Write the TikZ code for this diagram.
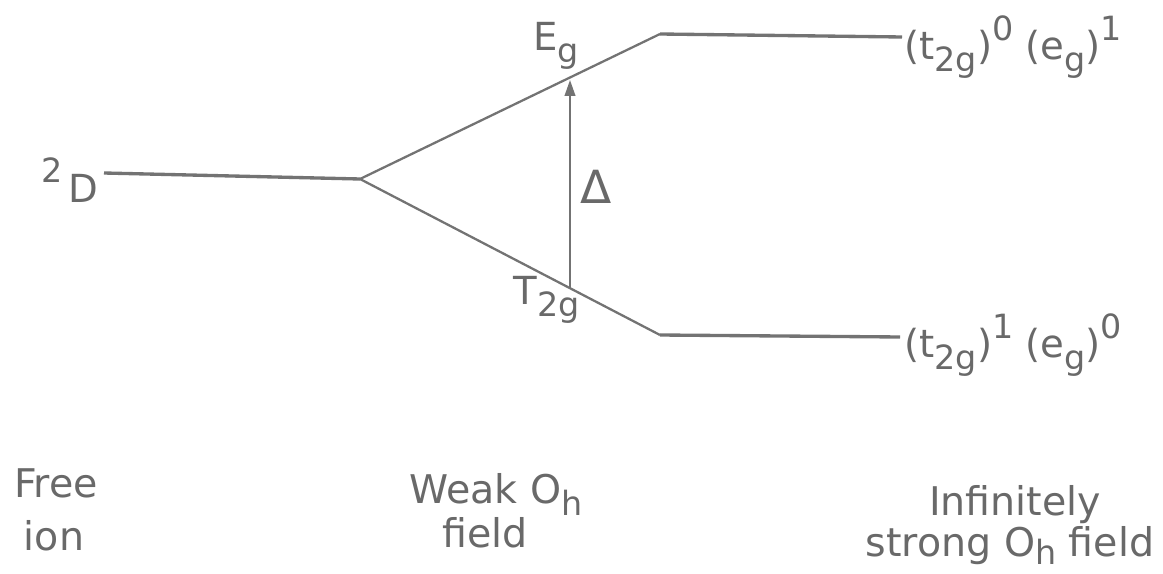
\documentclass[tikz,border=0pt]{standalone}
\usepackage{fontspec}
\setmainfont{DejaVu Sans}
\usetikzlibrary{arrows.meta}
\definecolor{ink}{RGB}{105,105,105}
\definecolor{lineink}{RGB}{115,115,115}
\newcommand\lo[1]{\raisebox{-0.32em}{\fontsize{19}{21}\selectfont #1}}
\newcommand\los[1]{\raisebox{-0.22em}{\fontsize{19}{21}\selectfont #1}}
\newcommand\hi[1]{\raisebox{0.5em}{\fontsize{19}{21}\selectfont #1}}
\begin{document}
\begin{tikzpicture}[x=0.02cm,y=-0.02cm,
  lab/.style={text=ink,font=\fontsize{22}{26}\selectfont,inner sep=0pt},
  bot/.style={text=ink,font=\fontsize{22.5}{27}\selectfont,inner sep=0pt,anchor=base},
  slope/.style={draw=lineink,line width=1.3pt},
  level/.style={draw=lineink,line width=1.9pt},
  gap/.style={-{Triangle[length=9pt,width=6pt]},draw=lineink,fill=lineink,line width=1.1pt}]
\useasboundingbox (0,0) rectangle (1163,574);
\coordinate (dstart) at (104,173);
\coordinate (split) at (360,179);
\coordinate (ucorner) at (660,34);
\coordinate (uend) at (902,37);
\coordinate (lcorner) at (660,335);
\coordinate (lend) at (900,337);
\coordinate (abot) at (570,288);
\coordinate (atop) at (570,80);
\node[lab,anchor=east] (D) at (99,180) {\hi{2}\,D};
\draw[level] (dstart) -- (split);
\draw[slope] (split) -- (ucorner);
\draw[slope] (split) -- (lcorner);
\draw[level] (ucorner) -- (uend);
\draw[level] (lcorner) -- (lend);
\draw[gap] (abot) -- (atop);
\node[lab,font=\fontsize{26}{28}\selectfont] (delta) at (596,187) {Δ};
\node[lab] (Eg) at (556,46) {E\lo{g}};
\node[lab] (T2g) at (547,300) {T\lo{2g}};
\node[lab,anchor=west] (ulab) at (904,47) {(t\lo{2g})\hi{0} (e\lo{g})\hi{1}};
\node[lab,anchor=west] (llab) at (904,345) {(t\lo{2g})\hi{1} (e\lo{g})\hi{0}};
\node[bot] (free) at (56,497) {Free};
\node[bot] (ion) at (54,550) {ion};
\node[bot] (weak) at (496,503) {Weak O\lo{h}};
\node[bot] (field) at (485,547) {field};
\node[bot] (inf) at (1015,515) {Infinitely};
\node[bot] (strong) at (1010,556) {strong O\los{h} field};
\end{tikzpicture}
\end{document}
